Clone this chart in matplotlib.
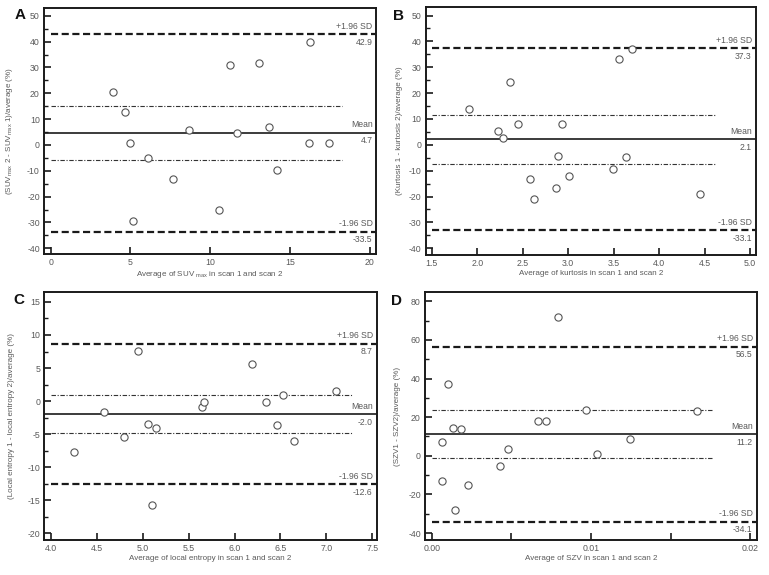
import matplotlib
matplotlib.use("Agg")
import matplotlib.pyplot as plt
from matplotlib.ticker import MultipleLocator, FixedLocator

plt.rcParams['font.family'] = ['Liberation Sans', 'DejaVu Sans']
plt.rcParams['axes.unicode_minus'] = False
plt.rcParams['mathtext.fontset'] = 'custom'
plt.rcParams['mathtext.rm'] = 'Liberation Sans'
plt.rcParams['mathtext.it'] = 'Liberation Sans'

# ---------------- data ----------------
a_x = [3.91, 4.67, 4.96, 5.17, 6.11, 7.64, 8.68, 10.56, 11.23, 11.69, 13.05, 13.70, 14.16, 16.23, 16.19, 17.45]
a_y = [20.5, 12.7, 0.6, -29.5, -5.0, -13.3, 5.7, -25.1, 31.1, 4.8, 31.8, 6.8, -9.6, 39.7, 0.8, 0.8]
a_stats = {"upper": 42.9, "mean": 4.7, "lower": -33.5, "ci_hi": 14.9, "ci_lo": -5.7, "ci_end": 18.26}

b_x = [1.907, 2.229, 2.28, 2.357, 2.453, 2.585, 2.625, 2.867, 2.892, 2.936, 3.013, 3.49, 3.559, 3.633, 3.706, 4.453]
b_y = [13.9, 5.5, 2.7, 24.4, 7.9, -13.1, -20.8, -16.5, -4.2, 8.1, -12.2, -9.2, 33.1, -4.7, 36.9, -19.2]
b_stats = {"upper": 37.3, "mean": 2.1, "lower": -33.1, "ci_hi": 11.7, "ci_lo": -7.4, "ci_end": 4.61}

c_x = [4.25, 4.577, 4.794, 4.95, 5.055, 5.106, 5.146, 5.65, 5.668, 6.187, 6.343, 6.466, 6.528, 6.644, 7.105]
c_y = [-7.73, -1.57, -5.5, 7.63, -3.43, -15.76, -4.04, -0.86, -0.15, 5.6, -0.15, -3.54, 0.86, -6.06, 1.57]
c_stats = {"upper": 8.7, "mean": -2.0, "lower": -12.6, "ci_hi": 1.0, "ci_lo": -4.8, "ci_end": 7.28}

d_x = [0.00063, 0.00063, 0.0010, 0.00132, 0.00144, 0.00186, 0.0023, 0.00427, 0.00481, 0.00665, 0.00718,
       0.00791, 0.00971, 0.01038, 0.01247, 0.01665]
d_y = [7.0, -12.8, 37.3, 14.3, -28.3, 14.0, -14.9, -5.2, 3.5, 17.8, 17.8, 71.9, 23.9, 0.9, 8.6, 23.0]
d_stats = {"upper": 56.5, "mean": 11.2, "lower": -34.1, "ci_hi": 23.7, "ci_lo": -1.2, "ci_end": 0.01768}

W, H = 769, 575
fig = plt.figure(figsize=(W / 100, H / 100), dpi=100)

TXT = '#5a5a5a'
LINE = '#1a1a1a'
TICKFS = 6.3
LABFS = 5.8
NOTEFS = 6.2


def make_axes(l, r, t, b):
    return fig.add_axes([l / W, 1 - b / H, (r - l) / W, (b - t) / H])


def panel(ax, x, y, st, xlim, ylim, x0, y0, xmaj, xmin, ymaj, ymin, xticklabels_fmt,
          xlabel, ylabel, ylab_x, letter, letter_xy):
    ax.set_xlim(*xlim)
    ax.set_ylim(*ylim)
    for s in ax.spines.values():
        s.set_linewidth(1.4)
        s.set_color(LINE)
    # limit lines
    ax.plot([x0, xlim[1]], [st["upper"]] * 2, color=LINE, lw=1.6, ls=(0, (3.2, 1.6)))
    ax.plot([x0, xlim[1]], [st["lower"]] * 2, color=LINE, lw=1.6, ls=(0, (3.2, 1.6)))
    ax.plot([xlim[0], xlim[1]], [st["mean"]] * 2, color=LINE, lw=1.2, ls='-')
    ax.plot([x0, st["ci_end"]], [st["ci_hi"]] * 2, color='#333333', lw=0.8, ls=(0, (4, 1.5, 1, 1.5)))
    ax.plot([x0, st["ci_end"]], [st["ci_lo"]] * 2, color='#333333', lw=0.8, ls=(0, (4, 1.5, 1, 1.5)))
    ax.plot(x, y, ls='none', marker='o', ms=5.2, mfc='white', mec='#555555', mew=0.8)

    # labels at right
    xr = xlim[1] - (xlim[1] - xlim[0]) * 0.012
    for key, top in (("upper", "+1.96 SD"), ("mean", "Mean"), ("lower", "-1.96 SD")):
        v = st[key]
        ax.annotate(top, (xr, v), xytext=(0, 2.5), textcoords='offset points',
                    ha='right', va='bottom', fontsize=NOTEFS, color=TXT)
        ax.annotate(f"{v:.1f}", (xr, v), xytext=(0, -2.5), textcoords='offset points',
                    ha='right', va='top', fontsize=NOTEFS, color=TXT)

    ax.xaxis.set_major_locator(FixedLocator(xmaj))
    ax.set_xticklabels([xticklabels_fmt(v) for v in xmaj])
    if xmin:
        ax.xaxis.set_minor_locator(FixedLocator(xmin))
    ax.yaxis.set_major_locator(MultipleLocator(ymaj))
    ax.yaxis.set_minor_locator(MultipleLocator(ymin))
    ax.tick_params(which='major', direction='in', length=5, width=1.2, color=LINE,
                   labelsize=TICKFS, labelcolor=TXT, pad=3)
    ax.tick_params(which='minor', direction='in', length=3, width=1.0, color=LINE)
    ax.tick_params(axis='x', which='minor', length=5, width=1.2)
    ax.set_yticks([v for v in ax.get_yticks() if y0 - 1e-9 <= v <= ylim[1]])
    ax.set_ylim(*ylim)
    ax.set_xlabel(xlabel, fontsize=LABFS, color=TXT)
    ax.set_ylabel(ylabel, fontsize=LABFS, color=TXT)
    ax.xaxis.set_label_coords(0.5, -0.06)
    ax.yaxis.set_label_coords(ylab_x, 0.5)
    fig.text(letter_xy[0] / W, 1 - letter_xy[1] / H, letter, fontsize=11, fontweight='bold',
             ha='center', va='center', color='#111111')


axA = make_axes(44, 376.5, 8, 254)
panel(axA, a_x, a_y, a_stats, (-0.42, 20.42), (-42.2, 53.0), 0, -40,
      [0, 5, 10, 15, 20], None, 10, 5, lambda v: f"{v:g}",
      "Average of SUV $_{\\mathregular{max}}$ in scan 1 and scan 2",
      "(SUV$_{\\mathregular{max}}$ 2 - SUV$_{\\mathregular{max}}$ 1)/average (%)", -0.087, "A", (20, 15))

axB = make_axes(425.7, 755.7, 7, 255)
panel(axB, b_x, b_y, b_stats, (1.434, 5.062), (-42.6, 53.3), 1.5, -40,
      [1.5, 2.0, 2.5, 3.0, 3.5, 4.0, 4.5, 5.0], None, 10, 5, lambda v: f"{v:.1f}",
      "Average of kurtosis in scan 1 and scan 2",
      "(Kurtosis 1 - kurtosis 2)/average (%)", -0.07, "B", (398, 16))

axC = make_axes(44.3, 376.7, 292, 540)
panel(axC, c_x, c_y, c_stats, (3.93, 7.547), (-21.0, 16.5), 4.0, -20,
      [4.0, 4.5, 5.0, 5.5, 6.0, 6.5, 7.0, 7.5], None, 5, 2.5, lambda v: f"{v:.1f}",
      "Average of local entropy in scan 1 and scan 2",
      "(Local entropy 1 - local entropy 2)/average (%)", -0.088, "C", (19, 300))

axD = make_axes(425, 756.7, 292, 540)
panel(axD, d_x, d_y, d_stats, (-0.00042, 0.0204), (-43.6, 84.8), 0.0, -40,
      [0.0, 0.01, 0.02], [0.005, 0.015], 20, 10, lambda v: f"{v:.2f}",
      "Average of SZV in scan 1 and scan 2",
      "(SZV1 - SZV2)/average (%)", -0.072, "D", (397, 301))

fig.savefig("out.png", dpi=100)
